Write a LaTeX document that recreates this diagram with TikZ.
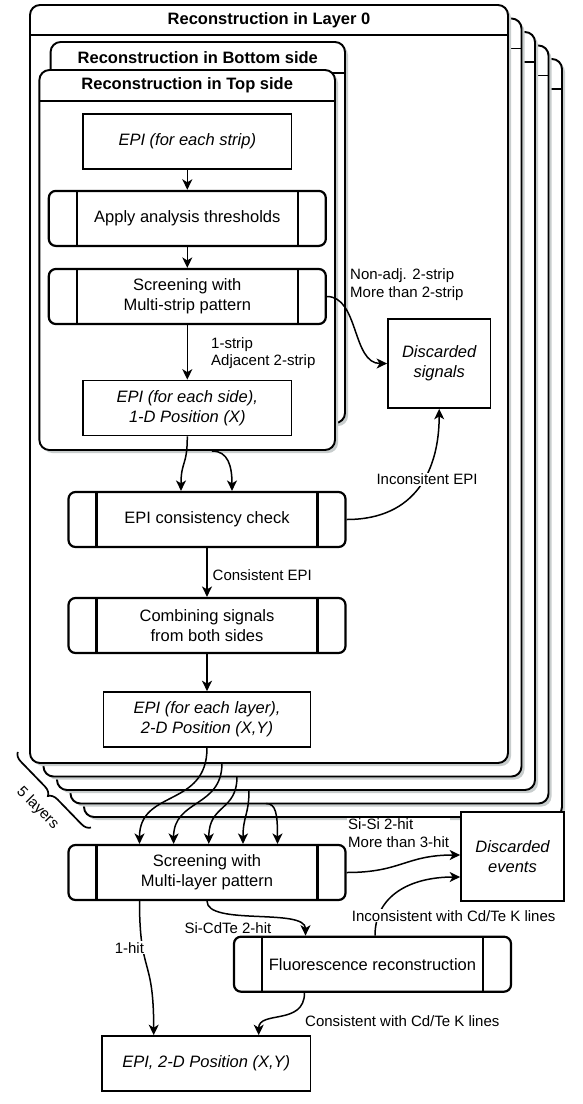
\documentclass[tikz,border=0pt]{standalone}
\usepackage{fontspec}
\setmainfont{Liberation Sans}
\usetikzlibrary{arrows.meta,decorations.pathreplacing,calc}
\definecolor{shadowc}{RGB}{200,205,205}
\newcommand\nfont{\fontsize{16.5}{20}\selectfont}
\newcommand\lfont{\fontsize{15}{17.5}\selectfont}
\begin{document}
\begin{tikzpicture}[x=1pt,y=-1pt,
  cont/.style={line width=1.9pt, rounded corners=10pt},
  contline/.style={line width=1.9pt},
  ttl/.style={font=\nfont\bfseries, inner sep=0pt},
  proc/.style={draw, line width=2.2pt, rounded corners=7pt, fill=white,
    minimum width=277pt, minimum height=55pt, inner sep=0pt, align=center, font=\nfont,
    path picture={
      \draw[line width=2.2pt] ([xshift=28pt]path picture bounding box.north west) -- ([xshift=28pt]path picture bounding box.south west);
      \draw[line width=2.2pt] ([xshift=-28pt]path picture bounding box.north east) -- ([xshift=-28pt]path picture bounding box.south east);}},
  rectbox/.style={draw, line width=1.7pt, fill=white, minimum width=208.5pt,
    minimum height=55pt, inner sep=0pt, align=center, font=\nfont\itshape},
  arr/.style={line width=1.5pt, -{Stealth[length=10.5pt,width=10pt,inset=3pt]}},
  lbl/.style={font=\lfont, inner sep=1pt, align=left},
  wlbl/.style={lbl, fill=white}]
\useasboundingbox (0,0) rectangle (582,1104);

% stack of layers
\foreach \k in {4,3,2,1,0}{
  \pgfmathsetmacro\dx{13.5*\k}
  \fill[shadowc, rounded corners=10pt] (33+\dx,8+\dx) rectangle (511+\dx,766+\dx);
  \draw[cont, fill=white] (30+\dx,5+\dx) rectangle (508+\dx,763+\dx);
  \draw[contline] (30+\dx,35+\dx) -- (508+\dx,35+\dx);
}
\node[ttl] (t0) at (269,20) {Reconstruction in Layer 0};

% bottom side container
\fill[shadowc, rounded corners=10pt] (53.6,45) rectangle (348,426);
\draw[cont, fill=white] (50.6,42) rectangle (345,423);
\draw[contline] (50.6,73) -- (345,73);
\node[ttl] (tb) at (197.8,57.5) {Reconstruction in Bottom side};

% top side container
\fill[shadowc, rounded corners=10pt] (42.4,73) rectangle (338,453);
\draw[cont, fill=white] (39.4,70) rectangle (335,450);
\draw[contline] (39.4,101) -- (335,101);
\node[ttl] (tt) at (187.2,85.5) {Reconstruction in Top side};

% nodes
\node[rectbox] (epis) at (187.3,141.5) {EPI (for each strip)};
\node[proc] (apply) at (187.3,218.4) {Apply analysis thresholds};
\node[proc] (scrs) at (187.3,296.5) {Screening with\\Multi-strip pattern};
\node[rectbox] (episide) at (187.3,408) {EPI (for each side),\\1-D Position (X)};
\node[rectbox, minimum width=102.5pt, minimum height=89pt] (dsig) at (439.2,363.5) {Discarded\\signals};
\node[proc] (check) at (207,519.5) {EPI consistency check};
\node[proc] (comb) at (207,625.5) {Combining signals\\from both sides};
\node[rectbox, minimum width=207pt] (epil) at (207,719.5) {EPI (for each layer),\\2-D Position (X,Y)};
\node[proc] (scrl) at (207,872.5) {Screening with\\Multi-layer pattern};
\node[rectbox, minimum width=103pt, minimum height=89pt] (devt) at (512.5,856.5) {Discarded\\events};
\node[proc] (fluo) at (372.5,964.2) {Fluorescence reconstruction};
\node[rectbox] (epif) at (206.3,1063.5) {EPI, 2-D Position (X,Y)};

% free ends
\coordinate (botout) at (212,451);
\coordinate (l1o) at (222,763);
\coordinate (l2o) at (237,776.5);
\coordinate (l3o) at (249,790);
\coordinate (l4o) at (266,803.5);
\coordinate (bra) at (91,827.5);
\coordinate (brb) at (17.5,751.7);

% connectors
\draw[arr] (epis) -- (apply);
\draw[arr] (apply) -- (scrs);
\draw[arr] (scrs) -- (episide);
\draw[arr] (scrs.east) .. controls +(32,0) and +(-35,0) .. (dsig.west);
\draw[arr] (episide.south) .. controls +(0,30) and +(0,-30) .. ([xshift=-26pt]check.north);
\draw[arr] (botout) .. controls +(16,0) and +(0,-25) .. ([xshift=25pt]check.north);
\draw[arr] (check.east) .. controls +(70,0) and +(0,60) .. (dsig.south);
\draw[arr] (check) -- (comb);
\draw[arr] (comb) -- (epil);
\draw[arr] (epil.south) .. controls +(0,60) and +(0,-55) .. ([xshift=-67.5pt]scrl.north);
\draw[arr] (l1o) .. controls +(0,45) and +(0,-45) .. ([xshift=-33.4pt]scrl.north);
\draw[arr] (l2o) .. controls +(0,35) and +(0,-40) .. ([xshift=1.8pt]scrl.north);
\draw[arr] (l3o) .. controls +(0,25) and +(0,-28) .. ([xshift=36pt]scrl.north);
\draw[arr] (l4o) .. controls +(10,0) and +(0,-30) .. ([xshift=70.5pt]scrl.north);
\draw[arr] (scrl.east) .. controls +(55,0) and +(-55,0) .. ([yshift=1.5pt]devt.west);
\draw[arr] (scrl.south) .. controls +(0,25) and +(0,-28) .. ([xshift=-67pt]fluo.north);
\draw[arr] ([xshift=-67.5pt]scrl.south) .. controls +(0,75) and +(0,-80) .. ([xshift=-52.6pt]epif.north);
\draw[arr] ([xshift=2.5pt]fluo.north) .. controls +(0,-40) and +(-50,0) .. ([yshift=-20.5pt]devt.west);
\draw[arr] ([xshift=-68pt]fluo.south) .. controls +(0,33) and +(0,-25) .. ([xshift=52.4pt]epif.north);

% brace
\draw[line width=1.7pt, decorate, decoration={brace, amplitude=9pt}] (bra) -- (brb);
\node[lbl, rotate=-45] (fivel) at (37.5,808) {5 layers};

% labels
\node[lbl, anchor=west] (lnon) at (349,284.5) {Non-adj. 2-strip\\More than 2-strip};
\node[lbl, anchor=west] (lone) at (210,353) {1-strip\\Adjacent 2-strip};
\node[wlbl] (linc) at (427,479) {Inconsitent EPI};
\node[lbl, anchor=west] (lcon) at (211.5,575) {Consistent EPI};
\node[wlbl, anchor=west] (lsisi) at (347,833) {Si-Si 2-hit\\More than 3-hit};
\node[lbl] (lcdte) at (228,927.7) {Si-CdTe 2-hit};
\node[wlbl] (lhit) at (129.4,947.7) {1-hit};
\node[wlbl] (lincf) at (453.7,915.7) {Inconsistent with Cd/Te K lines};
\node[lbl, anchor=west] (lconf) at (304,1021) {Consistent with Cd/Te K lines};
\end{tikzpicture}
\end{document}
